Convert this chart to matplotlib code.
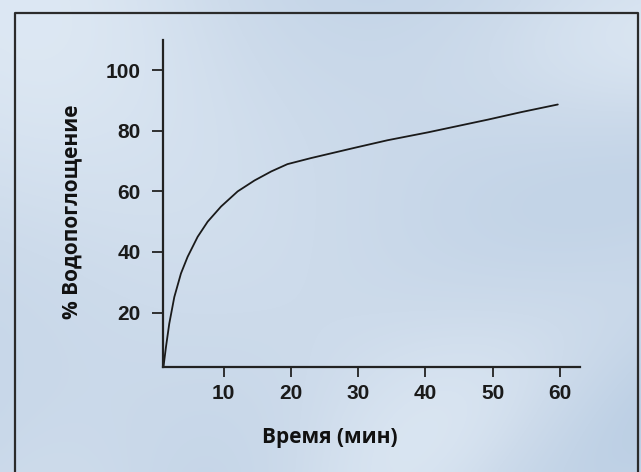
import numpy as np
import matplotlib
matplotlib.use('Agg')
import matplotlib.pyplot as plt
from matplotlib.colors import LinearSegmentedColormap

# water uptake curve
time_min = [1.0, 1.09, 1.44, 1.93, 2.68, 3.67, 4.66, 6.15, 7.64, 9.63, 12.1,
            14.6, 17.1, 19.5, 23.0, 29.5, 34.4, 40.4, 49.3, 54.3, 59.7]
uptake_pct = [2.0, 2.4, 8.6, 16.3, 25.1, 32.9, 38.4, 45.0, 50.0, 55.0, 60.0,
              63.6, 66.6, 69.0, 71.0, 74.4, 76.9, 79.5, 83.7, 86.2, 88.7]

x_ticks = [10, 20, 30, 40, 50, 60]
y_ticks = [20, 40, 60, 80, 100]

W, H = 641, 472
fig = plt.figure(figsize=(W / 100, H / 100), dpi=100)

# soft bluish backdrop (smooth, deterministic)
bg = fig.add_axes([0, 0, 1, 1], zorder=0)
gx, gy = np.meshgrid(np.linspace(0, 1, 160), np.linspace(0, 1, 120))
field = (0.5 + 0.18 * np.sin(6.0 * gx + 1.3) * np.cos(4.0 * gy)
         + 0.12 * np.sin(11.0 * gx * gy + 0.7) - 0.075 * gx)
cmap = LinearSegmentedColormap.from_list('bgc', ['#b9cde3', '#cddbeb', '#e6eff8'])
bg.imshow(field, cmap=cmap, aspect='auto', extent=[0, 1, 0, 1],
          interpolation='bicubic', vmin=0.1, vmax=0.9)
bg.set_axis_off()

# dark frame (left, top, right edges)
l, t, r = 15 / W, 1 - 13 / H, 638 / W
bg.plot([l, l, r, r], [0, t, t, 0], color='#2b2b2b', lw=1.6,
        transform=fig.transFigure, clip_on=False)

ax = fig.add_axes([163 / W, 1 - 367 / H, (580 - 163) / W, (367 - 40) / H], zorder=1)
ax.patch.set_alpha(0)
ax.plot(time_min, uptake_pct, color='#1a1a1a', lw=1.3,
        solid_capstyle='round', solid_joinstyle='round')

ax.set_xlim(1.0, 63)
ax.set_ylim(2.0, 110)
ax.set_xticks(x_ticks)
ax.set_yticks(y_ticks)
for s in ['top', 'right']:
    ax.spines[s].set_visible(False)
for s in ['left', 'bottom']:
    ax.spines[s].set_color('#222222')
    ax.spines[s].set_linewidth(1.6)

tick_font = dict(family='Liberation Sans', weight='bold', size=15)
ax.tick_params(axis='x', length=7, width=1.3, color='#222222', pad=5)
ax.tick_params(axis='y', length=8, width=1.3, color='#222222', pad=8)
ax.set_xticklabels([str(v) for v in x_ticks], fontdict=tick_font, color='#1a1a1a')
ax.set_yticklabels([str(v) for v in y_ticks], fontdict=tick_font, color='#1a1a1a')

lab_font = dict(family='Open Sans', weight='bold', size=15, color='#111111')
fig.text(330 / W, 1 - 438 / H, 'Время (мин)', ha='center', va='center', **lab_font)
fig.text(72 / W, 1 - 212 / H, '% Водопоглощение', ha='center', va='center',
         rotation=90, **lab_font)

fig.savefig('out.png', dpi=100)
